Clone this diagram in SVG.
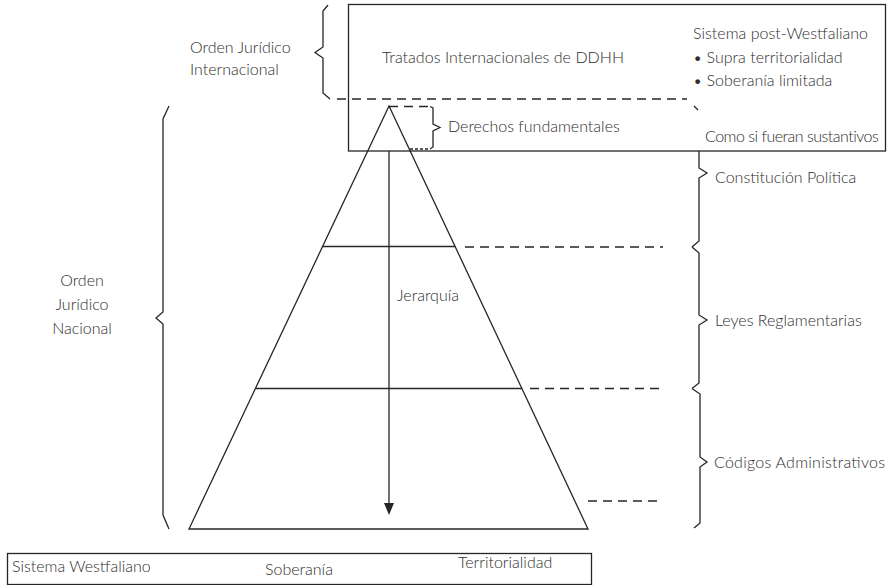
<svg xmlns="http://www.w3.org/2000/svg" width="888" height="585" viewBox="0 0 888 585">
  <style>
    .ln { fill: none; stroke: #262626; stroke-width: 1.3; stroke-linejoin: miter; }
    .dash { fill: none; stroke: #262626; stroke-width: 1.3; stroke-dasharray: 9 6; }
    .dot { fill: none; stroke: #262626; stroke-width: 1.3; stroke-dasharray: 3 2; }
    .box { fill: #ffffff; stroke: #262626; stroke-width: 1.3; }
    .head { fill: #262626; stroke: none; }
    text { font-family: "Lato", "Liberation Sans", sans-serif; font-size: 16px; font-weight: 300; fill: #2e2e2e; }
    .c { text-anchor: middle; }
  </style>
  <rect width="888" height="585" fill="#ffffff"/>

  <!-- International treaties box -->
  <g id="tratados">
    <rect class="box" x="348.5" y="4.5" width="537" height="146.5"/>
    <text x="382" y="63" textLength="242">Tratados Internacionales de DDHH</text>
    <text x="693" y="39" textLength="175">Sistema post-Westfaliano</text>
    <text x="693" y="63">• Supra territorialidad</text>
    <text x="693" y="86">• Soberanía limitada</text>
    <text x="705" y="142" font-size="14" letter-spacing="-0.5">Como si fueran sustantivos</text>
  </g>

  <!-- Normative pyramid -->
  <g id="piramide">
    <path class="ln" d="M389,106 L189,529 L588,529 Z"/>
    <line class="ln" x1="322.8" y1="246.5" x2="455.2" y2="246.5"/>
    <line class="ln" x1="256" y1="388.5" x2="522" y2="388.5"/>
    <text x="397" y="301">Jerarquía</text>
  </g>

  <!-- Fundamental rights bracket -->
  <g id="derechos">
    <path class="dash" d="M389,106.5 L430,106.5" stroke-dasharray="5 3"/>
    <path class="dot" d="M410,149 L430,149"/>
    <path class="ln" d="M430,106.5 L433,108 L433,124 L440,127.5 L433,131 L433,147 L430,149"/>
    <text x="448" y="132">Derechos fundamentales</text>
  </g>

  <!-- International legal order bracket -->
  <g id="orden-internacional">
    <path class="ln" d="M328,5 L323,11 L323,47 L315,52.5 L323,58 L323,93 L330,99"/>
    <text x="190" y="53">Orden Jurídico</text>
    <text x="190" y="75">Internacional</text>
  </g>

  <!-- National legal order bracket -->
  <g id="orden-nacional">
    <path class="ln" d="M169,106 L163,119 L163,312 L156,318 L163,324 L163,515 L169,529"/>
    <text class="c" x="82" y="286">Orden</text>
    <text class="c" x="82" y="310">Jurídico</text>
    <text class="c" x="82" y="334">Nacional</text>
  </g>

  <!-- Right-hand brackets for each level -->
  <g id="constitucion">
    <path class="ln" d="M694,106 L698,110"/>
    <path class="ln" d="M699,151 L699,168 L707,173 L699,178 L699,241 L692,247"/>
    <text x="715" y="183">Constitución Política</text>
  </g>
  <g id="leyes">
    <path class="ln" d="M692,247 L699,253 L699,315 L707,320 L699,325 L699,383 L692,388.5"/>
    <text x="715" y="326">Leyes Reglamentarias</text>
  </g>
  <g id="codigos">
    <path class="ln" d="M692,388.5 L700,394 L700,457 L707,462 L700,467 L700,523 L694,528"/>
    <text x="714" y="468" textLength="171">Códigos Administrativos</text>
  </g>

  <!-- Westphalian system box -->
  <g id="westfaliano">
    <rect class="box" x="7.5" y="553.5" width="584" height="31"/>
    <text x="12" y="572">Sistema Westfaliano</text>
    <text x="265" y="575">Soberanía</text>
    <text x="458" y="568">Territorialidad</text>
  </g>

  <!-- Connectors: hierarchy arrow and dashed level guides -->
  <g id="conectores">
    <line class="ln" x1="389" y1="151" x2="389" y2="504"/>
    <polygon class="head" points="384,503 394,503 389,515"/>
    <line class="dash" x1="337" y1="99" x2="687" y2="99"/>
    <line class="dash" x1="465" y1="247" x2="663" y2="247"/>
    <line class="dash" x1="530" y1="388.5" x2="663" y2="388.5"/>
    <line class="dash" x1="588" y1="501" x2="663" y2="501"/>
  </g>
</svg>
